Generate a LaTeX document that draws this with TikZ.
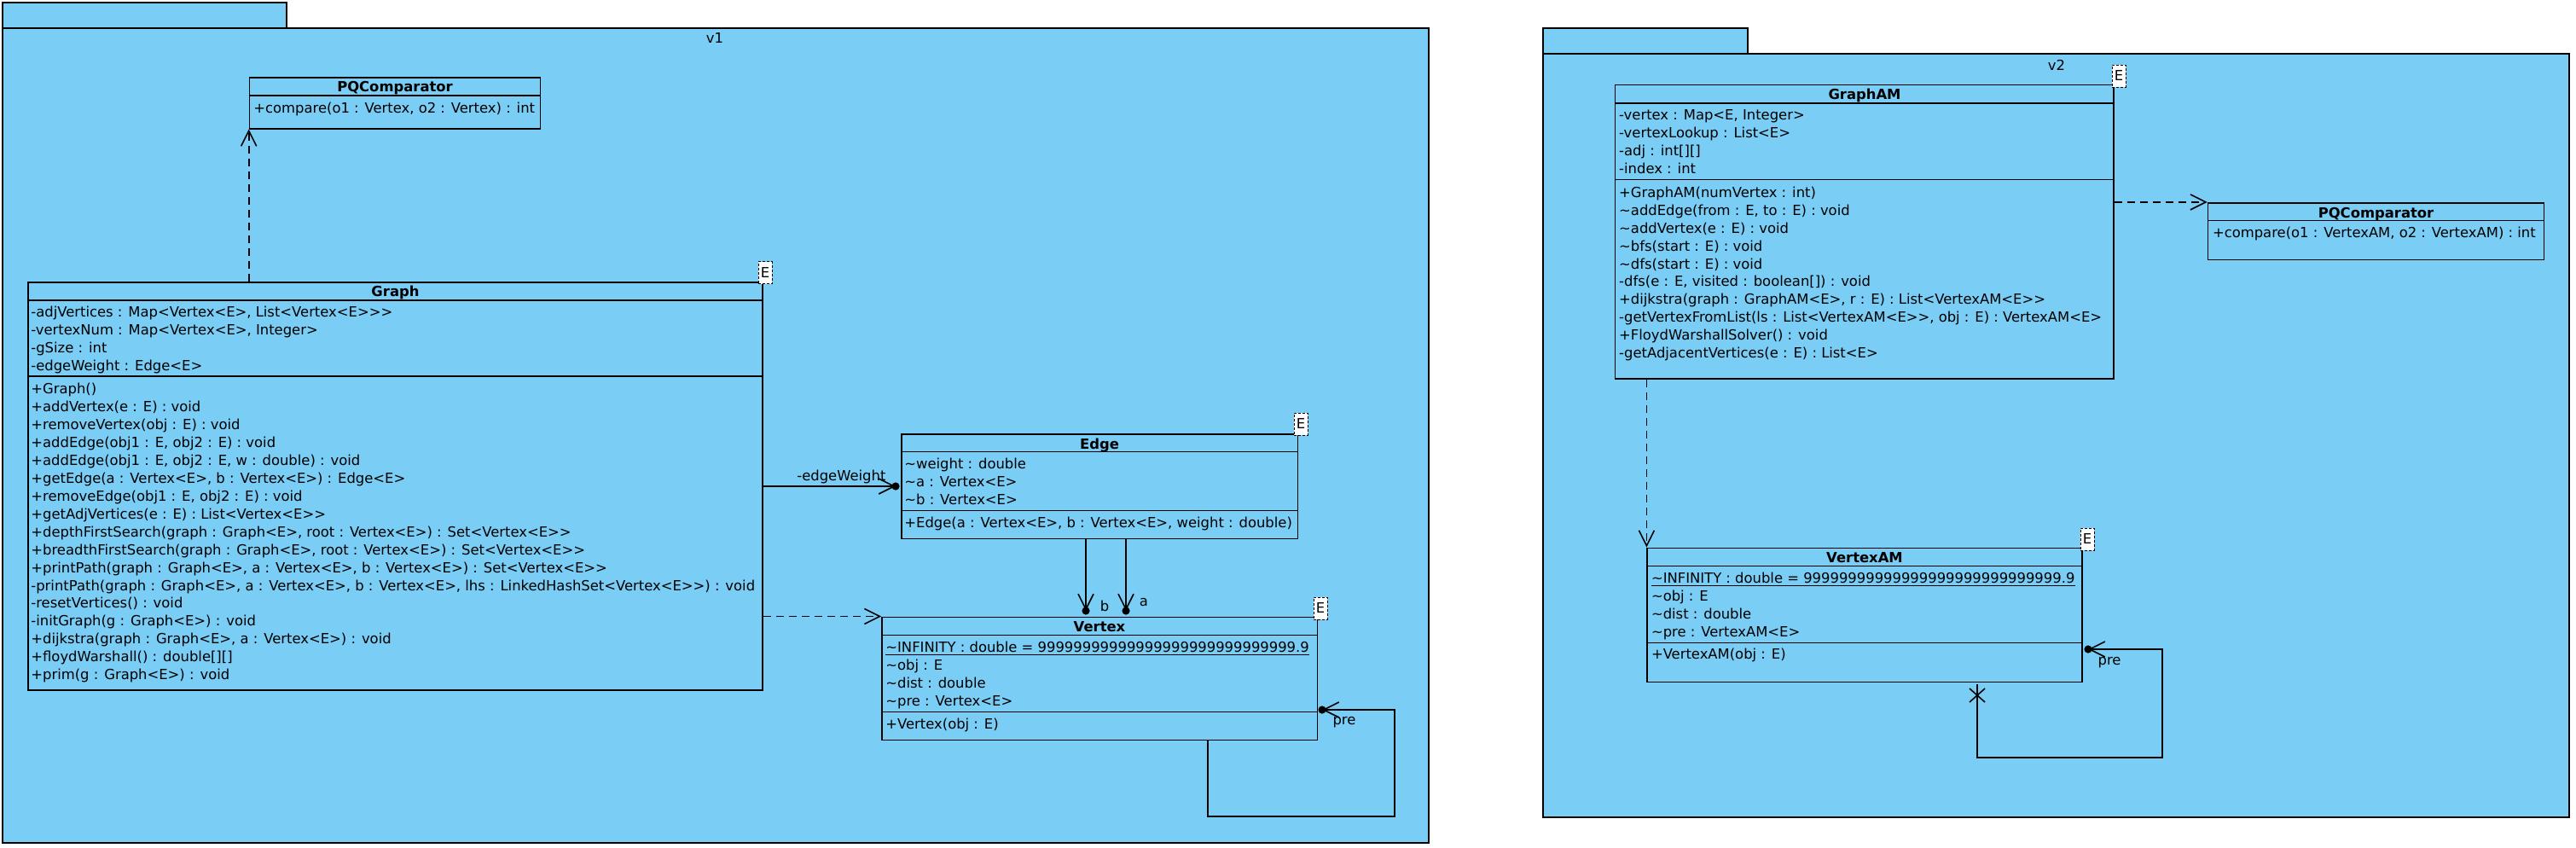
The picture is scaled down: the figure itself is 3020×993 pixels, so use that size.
\documentclass[tikz,border=0pt]{standalone}
\usepackage{fontspec}
\setmainfont{DejaVu Sans}[Ligatures=TeXOff]
\usetikzlibrary{arrows.meta,fit}
\definecolor{vpblue}{RGB}{122,205,245}
\newcommand{\vt}{\textasciitilde}
\newcommand{\vpfont}{\fontsize{8.2}{9.8}\selectfont}
\newcommand{\ninesval}{99999999999999999999999999999.9}
\tikzset{
  pkg/.style={draw=black, fill=vpblue, line width=1pt, inner sep=0pt},
  clsbox/.style={draw=black, fill=vpblue, line width=0.8pt, inner sep=0pt},
  sepline/.style={line width=0.8pt},
  txt/.style={anchor=west, inner sep=0pt, font=\vpfont, text height=7pt, text depth=1pt},
  hdr/.style={anchor=center, inner sep=0pt, font=\vpfont\bfseries, text height=7pt, text depth=1pt},
  lbl/.style={inner sep=0pt, font=\vpfont, text height=7pt, text depth=1pt},
  tmpl/.style={draw=black, dash pattern=on 1.5pt off 1pt, fill=white, inner sep=0pt,
    minimum width=8pt, minimum height=13pt, font=\vpfont},
  dep/.style={line width=0.8pt, dash pattern=on 4.5pt off 3pt, -{Straight Barb[length=9pt,width=9pt]}},
  assoc/.style={line width=0.8pt, -{Straight Barb[length=9pt,width=9pt]}},
  plainline/.style={line width=0.8pt},
  dotend/.style={circle, fill=black, inner sep=0pt, minimum size=4.6pt},
}
\begin{document}
\begin{tikzpicture}[x=0.5pt,y=-0.5pt]
\useasboundingbox (0,0) rectangle (3020,993);

% ---------------- packages ----------------
\node[pkg, fit={(3,3) (336,33)}] (v1tab) {};
\node[pkg, fit={(3,33) (1675,988)}] (v1) {};
\node[lbl] (v1lbl) at (838,44) {v1};
\node[pkg, fit={(1809,33) (2049,63)}] (v2tab) {};
\node[pkg, fit={(1809,63) (3012,958)}] (v2) {};
\node[lbl] (v2lbl) at (2411,76) {v2};

% ---------------- v1: PQComparator ----------------
\node[clsbox, fit={(292.5,90.7) (633.6,150.7)}] (pq1) {};
\draw[sepline] (292.5,112) -- (633.6,112);
\node[hdr] (pq1h) at (463,101) {PQComparator};
\node[txt] (pq1o) at (297,126) {+compare(o1 : Vertex, o2 : Vertex) : int};

% ---------------- v1: Graph ----------------
\node[clsbox, fit={(33,331) (894,809)}] (graph) {};
\draw[sepline] (33,352) -- (894,352);
\draw[sepline] (33,441) -- (894,441);
\node[hdr] (graphh) at (463.5,341.5) {Graph};
\foreach \s [count=\i from 0] in {
  {-adjVertices : Map<Vertex<E>, List<Vertex<E>>>},
  {-vertexNum : Map<Vertex<E>, Integer>},
  {-gSize : int},
  {-edgeWeight : Edge<E>}}
  \node[txt] (ga\i) at (36,{365+21.1*\i}) {\s};
\foreach \s [count=\i from 0] in {
  {+Graph()},
  {+addVertex(e : E) : void},
  {+removeVertex(obj : E) : void},
  {+addEdge(obj1 : E, obj2 : E) : void},
  {+addEdge(obj1 : E, obj2 : E, w : double) : void},
  {+getEdge(a : Vertex<E>, b : Vertex<E>) : Edge<E>},
  {+removeEdge(obj1 : E, obj2 : E) : void},
  {+getAdjVertices(e : E) : List<Vertex<E>>},
  {+depthFirstSearch(graph : Graph<E>, root : Vertex<E>) : Set<Vertex<E>>},
  {+breadthFirstSearch(graph : Graph<E>, root : Vertex<E>) : Set<Vertex<E>>},
  {+printPath(graph : Graph<E>, a : Vertex<E>, b : Vertex<E>) : Set<Vertex<E>>},
  {-printPath(graph : Graph<E>, a : Vertex<E>, b : Vertex<E>, lhs : LinkedHashSet<Vertex<E>>) : void},
  {-resetVertices() : void},
  {-initGraph(g : Graph<E>) : void},
  {+dijkstra(graph : Graph<E>, a : Vertex<E>) : void},
  {+floydWarshall() : double[][]},
  {+prim(g : Graph<E>) : void}}
  \node[txt] (go\i) at (36,{455.7+20.94*\i}) {\s};
\node[tmpl] (graphE) at (897,319.5) {E};

% ---------------- v1: Edge ----------------
\node[clsbox, fit={(1057,508.7) (1521.5,631.3)}] (edge) {};
\draw[sepline] (1057,529.3) -- (1521.5,529.3);
\draw[sepline] (1057,598.3) -- (1521.5,598.3);
\node[hdr] (edgeh) at (1289,520) {Edge};
\node[txt] (ea0) at (1060,543.3) {\vt weight : double};
\node[txt] (ea1) at (1060,564.5) {\vt a : Vertex<E>};
\node[txt] (ea2) at (1060,585.7) {\vt b : Vertex<E>};
\node[txt] (eo0) at (1060,612.3) {+Edge(a : Vertex<E>, b : Vertex<E>, weight : double)};
\node[tmpl] (edgeE) at (1525,497) {E};

% ---------------- v1: Vertex ----------------
\node[clsbox, fit={(1034,723.3) (1544.3,867.3)}] (vertex) {};
\draw[sepline] (1034,744.3) -- (1544.3,744.3);
\draw[sepline] (1034,834.3) -- (1544.3,834.3);
\node[hdr] (vertexh) at (1289,734) {Vertex};
\node[txt] (va0) at (1038,758.3) {\underline{\vt INFINITY : double = \ninesval}};
\node[txt] (va1) at (1038,779.3) {\vt obj : E};
\node[txt] (va2) at (1038,800.3) {\vt dist : double};
\node[txt] (va3) at (1038,821.5) {\vt pre : Vertex<E>};
\node[txt] (vo0) at (1038,848.3) {+Vertex(obj : E)};
\node[tmpl] (vertexE) at (1548,713) {E};

% ---------------- v1 connectors ----------------
\draw[dep] (pq1.south west |- graph.north) -- (pq1.south west);
\draw[dep] (graph.east |- vertex.north west) -- (vertex.north west);
\coordinate (ewtip) at (1050,570);
\draw[assoc] (graph.east |- ewtip) -- (ewtip);
\node[dotend] (ewdot) at (ewtip) {};
\node[lbl, anchor=west] (ewlbl) at (934,557) {-edgeWeight};
\coordinate (btip) at (1273,716);
\coordinate (atip) at (1320,716);
\draw[assoc] (edge.south -| btip) -- (btip);
\draw[assoc] (edge.south -| atip) -- (atip);
\node[dotend] (bdot) at (btip) {};
\node[dotend] (adot) at (atip) {};
\node[lbl] (blbl) at (1295,710) {b};
\node[lbl] (albl) at (1341,704) {a};
\coordinate (vl1) at (1416,957);
\coordinate (vl2) at (1635,957);
\coordinate (vptip) at (1550,832);
\draw[assoc] (vertex.south -| vl1) -- (vl1) -- (vl2) |- (vptip);
\node[dotend] (vpdot) at (vptip) {};
\node[lbl] (vplbl) at (1576,843) {pre};

% ---------------- v2: GraphAM ----------------
\node[clsbox, fit={(1893.6,99.3) (2478.2,444)}] (graphAM) {};
\draw[sepline] (1893.6,121) -- (2478.2,121);
\draw[sepline] (1893.6,210.3) -- (2478.2,210.3);
\node[hdr] (graphAMh) at (2186,110.7) {GraphAM};
\foreach \s [count=\i from 0] in {
  {-vertex : Map<E, Integer>},
  {-vertexLookup : List<E>},
  {-adj : int[][]},
  {-index : int}}
  \node[txt] (gma\i) at (1897.8,{134.3+21*\i}) {\s};
\foreach \s [count=\i from 0] in {
  {+GraphAM(numVertex : int)},
  {\vt addEdge(from : E, to : E) : void},
  {\vt addVertex(e : E) : void},
  {\vt bfs(start : E) : void},
  {\vt dfs(start : E) : void},
  {-dfs(e : E, visited : boolean[]) : void},
  {+dijkstra(graph : GraphAM<E>, r : E) : List<VertexAM<E>>},
  {-getVertexFromList(ls : List<VertexAM<E>>, obj : E) : VertexAM<E>},
  {+FloydWarshallSolver() : void},
  {-getAdjacentVertices(e : E) : List<E>}}
  \node[txt] (gmo\i) at (1897.8,{225.7+20.85*\i}) {\s};
\node[tmpl] (graphAME) at (2484,89) {E};

% ---------------- v2: PQComparator ----------------
\node[clsbox, fit={(2588.5,237.7) (2982.5,304.3)}] (pq2) {};
\draw[sepline] (2588.5,258.3) -- (2982.5,258.3);
\node[hdr] (pq2h) at (2785.5,249) {PQComparator};
\node[txt] (pq2o) at (2593.6,272.3) {+compare(o1 : VertexAM, o2 : VertexAM) : int};

% ---------------- v2: VertexAM ----------------
\node[clsbox, fit={(1931.2,642.3) (2441.2,799.3)}] (vertexAM) {};
\draw[sepline] (1931.2,663.3) -- (2441.2,663.3);
\draw[sepline] (1931.2,753.3) -- (2441.2,753.3);
\node[hdr] (vertexAMh) at (2186,653.3) {VertexAM};
\node[txt] (vma0) at (1935.6,677.3) {\underline{\vt INFINITY : double = \ninesval}};
\node[txt] (vma1) at (1935.6,698.3) {\vt obj : E};
\node[txt] (vma2) at (1935.6,719) {\vt dist : double};
\node[txt] (vma3) at (1935.6,740) {\vt pre : VertexAM<E>};
\node[txt] (vmo0) at (1935.6,766.7) {+VertexAM(obj : E)};
\node[tmpl] (vertexAME) at (2447,632) {E};

% ---------------- v2 connectors ----------------
\draw[dep] (graphAM.east |- pq2.north west) -- (pq2.north west);
\draw[dep] (vertexAM.north west |- graphAM.south) -- (vertexAM.north west);
\coordinate (wl0) at (2318,802);
\coordinate (wl1) at (2318,888);
\coordinate (wl2) at (2535,888);
\coordinate (wptip) at (2448,761);
\draw[assoc] (wl0) -- (wl1) -- (wl2) |- (wptip);
\node[dotend] (wpdot) at (wptip) {};
\draw[plainline] (2309,807) -- (2327,823);
\draw[plainline] (2309,823) -- (2327,807);
\node[lbl] (wplbl) at (2473,773) {pre};
\end{tikzpicture}
\end{document}
